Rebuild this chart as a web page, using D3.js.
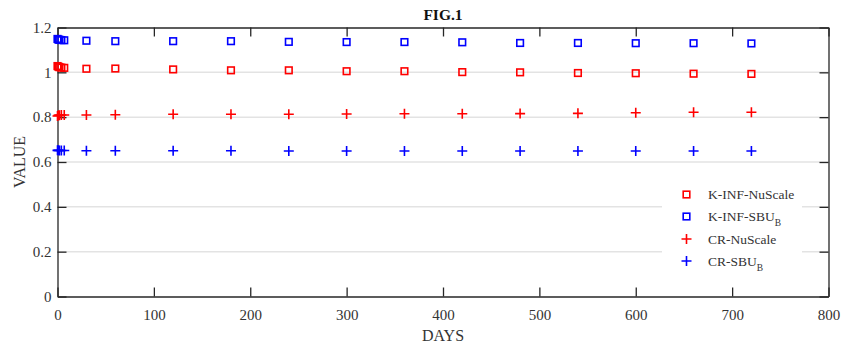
<!DOCTYPE html>
<html>
<head>
<meta charset="utf-8">
<script src="https://cdn.jsdelivr.net/npm/d3@7"></script>
<style>
	body { margin: 0; background: #fff; }
	svg { display: block; font-family: "Liberation Serif", "Times New Roman", serif; }
	svg text { font-family: "Liberation Serif", "Times New Roman", serif; }
</style>
</head>
<body>
<svg id="chart" width="842" height="345"></svg>
<script>
const days = [0, 1, 2, 4, 7, 30, 60, 120, 180, 240, 300, 360, 420, 480, 540, 600, 660, 720];
const kinfNuScale = [1.028, 1.025, 1.023, 1.021, 1.020, 1.016, 1.017, 1.013, 1.009, 1.009, 1.005, 1.005, 1.001, 1.000, 0.997, 0.996, 0.994, 0.993];
const kinfSBU = [1.149, 1.146, 1.145, 1.144, 1.143, 1.141, 1.139, 1.139, 1.139, 1.136, 1.135, 1.135, 1.134, 1.131, 1.131, 1.130, 1.130, 1.129];
const crNuScale = [0.805, 0.808, 0.809, 0.810, 0.810, 0.810, 0.811, 0.813, 0.813, 0.813, 0.814, 0.815, 0.815, 0.816, 0.817, 0.820, 0.822, 0.822];
const crSBU = [0.652, 0.652, 0.651, 0.651, 0.651, 0.650, 0.650, 0.650, 0.650, 0.649, 0.649, 0.649, 0.649, 0.649, 0.649, 0.649, 0.649, 0.649];
const xTicks = [0, 100, 200, 300, 400, 500, 600, 700, 800];
const yTicks = [0, 0.2, 0.4, 0.6, 0.8, 1, 1.2];

const series = [
	{ name: 'K-INF-NuScale', sub: null, values: kinfNuScale, color: '#ff0000', shape: 'square' },
	{ name: 'K-INF-SBU', sub: 'B', values: kinfSBU, color: '#0000ff', shape: 'square' },
	{ name: 'CR-NuScale', sub: null, values: crNuScale, color: '#ff0000', shape: 'plus' },
	{ name: 'CR-SBU', sub: 'B', values: crSBU, color: '#0000ff', shape: 'plus' }
];

const svg = d3.select('#chart');
const m = { left: 57.5, right: 828.5, top: 27.5, bottom: 296.5 };

const x = d3.scaleLinear().domain([0, 800]).range([m.left, m.right]);
const y = d3.scaleLinear().domain([0, 1.2]).range([m.bottom, m.top]);

// grid
svg.append('g')
	.selectAll('line')
	.data(yTicks.filter(v => v > 0 && v < 1.2))
	.enter()
		.append('line')
		.attr('x1', m.left)
		.attr('x2', m.right)
		.attr('y1', d => y(d))
		.attr('y2', d => y(d))
		.attr('stroke', '#e3e3e3')
		.attr('stroke-width', 1.5);

// legend background hides the grid
const lg = { x: 662, y: 182, w: 140, h: 90 };
svg.append('rect')
	.attr('x', lg.x).attr('y', lg.y)
	.attr('width', lg.w).attr('height', lg.h)
	.attr('fill', '#fff');

const axisColor = '#262626';
const serif = '"Liberation Serif", "Times New Roman", serif';
const styleAxis = g => {
	g.attr('font-family', serif).attr('font-size', 15);
	g.select('.domain').attr('stroke', axisColor).attr('stroke-width', 1.3);
	g.selectAll('.tick line').attr('stroke', axisColor).attr('stroke-width', 1.3);
	g.selectAll('text').attr('fill', '#333');
};

svg.append('g')
	.attr('transform', `translate(0,${m.bottom})`)
	.call(d3.axisBottom(x).tickValues(xTicks).tickSize(-9).tickPadding(13).tickSizeOuter(0))
	.call(styleAxis);

svg.append('g')
	.attr('transform', `translate(0,${m.top})`)
	.call(d3.axisTop(x).tickValues(xTicks).tickSize(-9).tickFormat('').tickSizeOuter(0))
	.call(styleAxis);

svg.append('g')
	.attr('transform', `translate(${m.left},0)`)
	.call(d3.axisLeft(y).tickValues(yTicks).tickSize(-9).tickPadding(6).tickSizeOuter(0)
		.tickFormat(d => d3.format('')(+d.toFixed(1))))
	.call(styleAxis);

svg.append('g')
	.attr('transform', `translate(${m.right},0)`)
	.call(d3.axisRight(y).tickValues(yTicks).tickSize(-9).tickFormat('').tickSizeOuter(0))
	.call(styleAxis);

// markers
function drawMarker(g, shape, color, cx, cy) {
	if (shape === 'square') {
		g.append('rect')
			.attr('x', cx - 3.3).attr('y', cy - 3.3)
			.attr('width', 6.6).attr('height', 6.6)
			.attr('fill', 'none')
			.attr('stroke', color)
			.attr('stroke-width', 1.6);
	} else {
		g.append('path')
			.attr('d', `M${cx - 5},${cy}H${cx + 5}M${cx},${cy - 5}V${cy + 5}`)
			.attr('stroke', color)
			.attr('stroke-width', 1.6);
	}
}

series.forEach(s => {
	const g = svg.append('g').attr('class', 'series');
	days.forEach((d, i) => drawMarker(g, s.shape, s.color, x(d), y(s.values[i])));
});

// legend
const legendY = [194.5, 216.5, 239, 261];
series.forEach((s, i) => {
	const g = svg.append('g').attr('class', 'legend-item');
	drawMarker(g, s.shape, s.color, 686.5, legendY[i]);
	const t = g.append('text')
		.attr('x', 708)
		.attr('y', legendY[i] + 4.5)
		.attr('fill', '#333')
		.style('font-size', '13.5px')
		.text(s.name);
	if (s.sub) {
		t.append('tspan')
			.attr('dy', 5)
			.style('font-size', '9.5px')
			.text(s.sub);
	}
});

// titles
svg.append('text')
	.attr('x', (m.left + m.right) / 2)
	.attr('y', 20)
	.attr('text-anchor', 'middle')
	.style('font-size', '15.5px')
	.style('font-weight', 'bold')
	.attr('fill', '#111')
	.text('FIG.1');

svg.append('text')
	.attr('x', (m.left + m.right) / 2)
	.attr('y', 341)
	.attr('text-anchor', 'middle')
	.style('font-size', '16px')
	.attr('fill', '#333')
	.text('DAYS');

svg.append('text')
	.attr('transform', `translate(25,${(m.top + m.bottom) / 2}) rotate(-90)`)
	.attr('text-anchor', 'middle')
	.style('font-size', '16px')
	.attr('fill', '#333')
	.text('VALUE');
</script>
</body>
</html>
